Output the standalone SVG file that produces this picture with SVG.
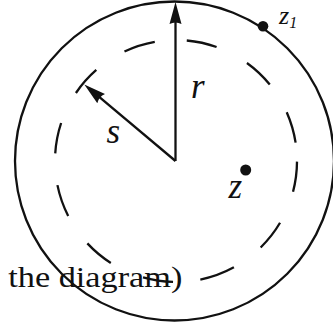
<svg xmlns="http://www.w3.org/2000/svg" width="333" height="324" viewBox="0 0 333 324">
<style>
.ln{fill:none;stroke:#111;stroke-width:2.3}
.lab{font-family:"Liberation Serif","DejaVu Serif",serif;font-style:italic;fill:#111}
.dot{fill:#111}
</style>
<defs>
<marker id="ah" markerUnits="userSpaceOnUse" markerWidth="24" markerHeight="14" refX="10" refY="7" orient="auto" viewBox="0 0 24 14">
<path d="M22 7 L0 1 Q3 7 0 13 Z" fill="#111"/>
</marker>
</defs>
<rect width="333" height="324" fill="#fff"/>
<g id="caption">
<text x="8.3" y="287.3" font-family="Liberation Serif, DejaVu Serif, serif" font-size="30" fill="#111" textLength="174" lengthAdjust="spacingAndGlyphs">the diagram)</text>
</g>
<g id="outer-circle">
<circle class="ln" cx="174.5" cy="161" r="159.5"/>
</g>
<g id="dashed-circle">
<path class="ln" d="M124.48 51.52 A121 121 0 0 1 154.78 41.88 M186.76 40.48 A121 121 0 0 1 216.59 47.01 M246.95 62.99 A121 121 0 0 1 269.76 84.53 M286.72 112.18 A121 121 0 0 1 295.61 142.69 M297 161.63 A121 121 0 0 1 293.04 191.71 M280.05 222.77 A121 121 0 0 1 260.66 247.45 M233.92 267.24 A121 121 0 0 1 200.33 279.53 M173.05 281.96 A121 121 0 0 1 143.05 277.43 M110.81 262.94 A121 121 0 0 1 87.37 243.36 M68.19 215.93 A121 121 0 0 1 57.43 185.13 M55.24 153.4 A121 121 0 0 1 61.12 123.01 M75.92 92.99 A121 121 0 0 1 96.3 69.96"/>
</g>
<g id="connectors">
<line class="ln" x1="175.5" y1="161" x2="175.5" y2="14" marker-end="url(#ah)"/>
<line class="ln" x1="175.5" y1="161" x2="93.5" y2="92.2" marker-end="url(#ah)"/>
</g>
<g id="point-z1">
<circle class="dot" cx="263" cy="26.3" r="5.3"/>
<text class="lab" x="279" y="23.5" font-size="26">z<tspan font-size="16" dy="4.5">1</tspan></text>
</g>
<g id="point-z">
<circle class="dot" cx="245.7" cy="170" r="5.5"/>
<text class="lab" x="228.5" y="198" font-size="35">z</text>
</g>
<g id="label-r">
<text class="lab" x="191" y="98" font-size="35">r</text>
</g>
<g id="label-s">
<text class="lab" x="106.5" y="143" font-size="35">s</text>
</g>
</svg>
